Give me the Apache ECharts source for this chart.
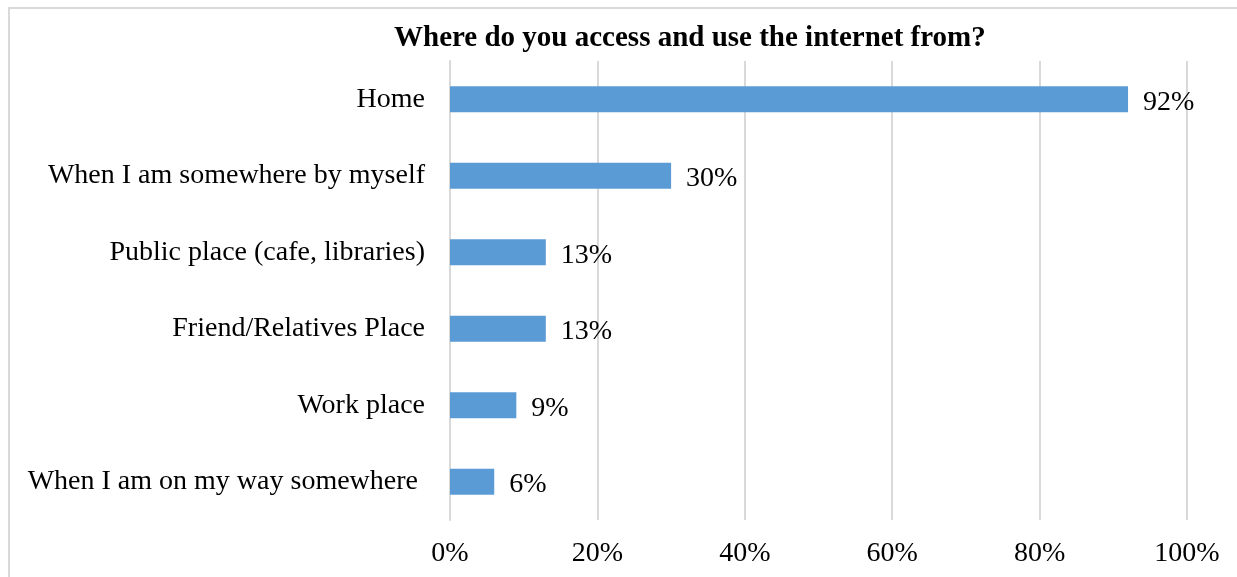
<!DOCTYPE html>
<html>
<head>
<meta charset="utf-8">
<script src="https://cdn.jsdelivr.net/npm/echarts@6/dist/echarts.min.js"></script>
<style>
  html, body { margin: 0; padding: 0; background: #fff; }
  #chart { width: 1237px; height: 577px; }
</style>
</head>
<body>
<div id="chart"></div>
<script>
// Survey answers, listed top to bottom as drawn
const places = [
  'Home',
  'When I am somewhere by myself',
  'Public place (cafe, libraries)',
  'Friend/Relatives Place',
  'Work place',
  'When I am on my way somewhere '
];
// Share of respondents, in percent
const shares = [92, 30, 13, 13, 9, 6];
// Axis ticks, in percent
const tickValues = [0, 20, 40, 60, 80, 100];

const FONT = '"Liberation Serif", "Times New Roman", serif';
const GRID = '#d9d9d9';

const chart = echarts.init(document.getElementById('chart'), null, { renderer: 'canvas' });

chart.setOption({
  backgroundColor: '#ffffff',
  animation: false,
  graphic: [{
    type: 'rect',
    silent: true,
    shape: { x: 9, y: 8, width: 1400, height: 800 },
    style: { fill: 'none', stroke: GRID, lineWidth: 2 }
  }],
  title: {
    text: 'Where do you access and use the internet from?',
    left: 389,
    top: 19,
    textStyle: { fontFamily: FONT, fontSize: 29, fontWeight: 'bold', color: '#000' }
  },
  grid: { left: 450, right: 50, top: 61, bottom: 57, containLabel: false },
  xAxis: {
    type: 'value',
    min: tickValues[0],
    max: tickValues[tickValues.length - 1],
    interval: tickValues[1] - tickValues[0],
    axisLine: { show: false },
    axisTick: { show: false },
    splitLine: { show: true, lineStyle: { color: GRID, width: 2 } },
    axisLabel: {
      margin: 20,
      formatter: v => v + '%',
      fontFamily: FONT, fontSize: 28, color: '#000'
    }
  },
  yAxis: {
    type: 'category',
    data: places,
    inverse: true,
    axisLine: { show: true, lineStyle: { color: GRID, width: 2 } },
    axisTick: { show: false },
    axisLabel: { margin: 25, fontFamily: FONT, fontSize: 28, color: '#000', padding: [3, 0, 0, 0] }
  },
  series: [{
    type: 'bar',
    data: shares,
    barWidth: 26,
    itemStyle: { color: '#5b9bd5' },
    label: {
      show: true,
      position: 'right',
      distance: 15,
      offset: [0, 3],
      formatter: p => p.value + '%',
      fontFamily: FONT, fontSize: 28, color: '#000'
    }
  }]
});
</script>
</body>
</html>
